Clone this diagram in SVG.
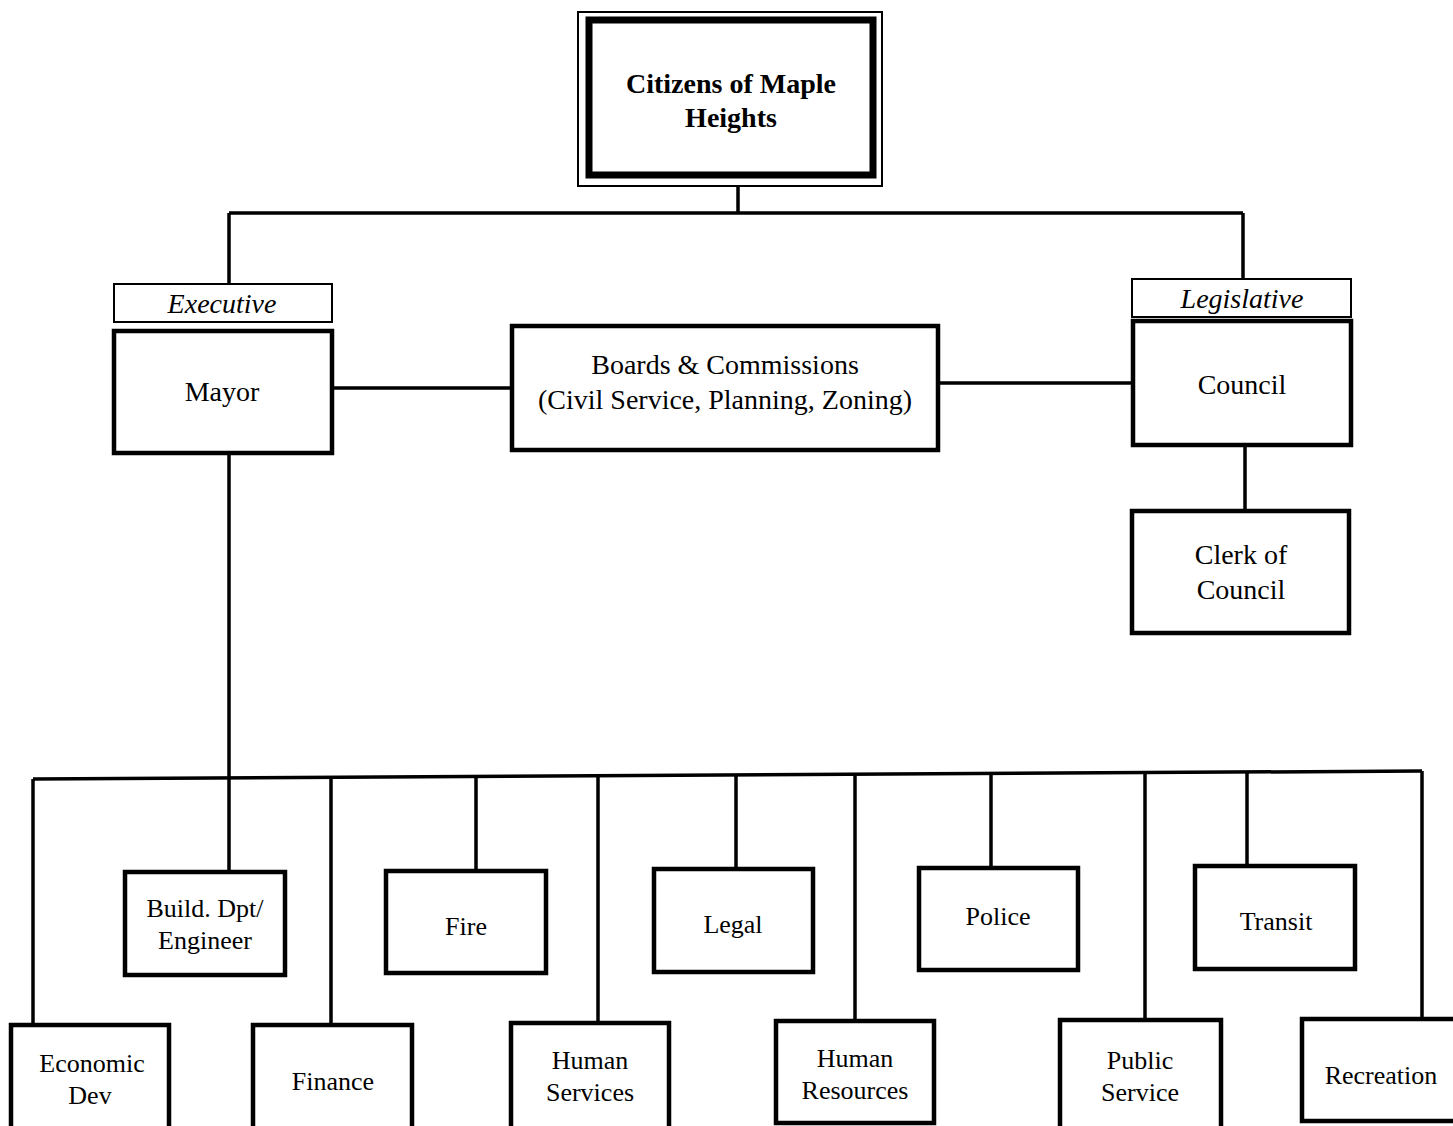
<svg xmlns="http://www.w3.org/2000/svg" width="1453" height="1126" viewBox="0 0 1453 1126">
<style>
.box{fill:#fff;stroke:#000;stroke-width:4.5}
.lbl{fill:#fff;stroke:#000;stroke-width:2}
.t{font-family:"Liberation Serif","Times New Roman",serif;font-size:28px;fill:#000;text-anchor:middle}
.s{font-size:26px}
.b{font-weight:bold}
.i{font-style:italic}
.c{stroke:#000;stroke-width:3.5;fill:none}
</style>
<rect width="1453" height="1126" fill="#fff"/>
<g id="connectors">
<path class="c" d="M738 186V213M229 213H1243M229 213V284M1243 213V279"/>
<path class="c" d="M332 388H512M938 383H1133M1245 446V511"/>
<path class="c" d="M229 453V871"/>
<path class="c" d="M33 779L1422 771"/>
<path class="c" d="M33 779V1025M331 777V1025M476 776V870M598 776V1023M736 775V868M855 774V1021M991 774V867M1145 773V1020M1247 772V865M1422 771V1018"/>
</g>
<g id="citizens">
<rect x="578" y="12" width="304" height="174" fill="#fff" stroke="#000" stroke-width="2"/>
<rect x="589" y="20" width="284" height="155" fill="none" stroke="#000" stroke-width="7"/>
<text class="t b" x="731" y="93">Citizens of Maple</text>
<text class="t b" x="731" y="127">Heights</text>
</g>
<g id="executive">
<rect class="lbl" x="114" y="284" width="218" height="38"/>
<text class="t i" x="222" y="313">Executive</text>
</g>
<g id="mayor">
<rect class="box" x="114" y="331" width="218" height="122"/>
<text class="t" x="222" y="401">Mayor</text>
</g>
<g id="boards">
<rect class="box" x="512" y="326" width="426" height="124"/>
<text class="t" x="725" y="374">Boards &amp; Commissions</text>
<text class="t" x="725" y="409">(Civil Service, Planning, Zoning)</text>
</g>
<g id="legislative">
<rect class="lbl" x="1132" y="279" width="219" height="38"/>
<text class="t i" x="1242" y="308">Legislative</text>
</g>
<g id="council">
<rect class="box" x="1133" y="321" width="218" height="124"/>
<text class="t" x="1242" y="394">Council</text>
</g>
<g id="clerk">
<rect class="box" x="1132" y="511" width="217" height="122"/>
<text class="t" x="1241" y="564">Clerk of</text>
<text class="t" x="1241" y="599">Council</text>
</g>
<g id="economic-dev">
<rect class="box" x="11" y="1025" width="158" height="110"/>
<text class="t s" x="92" y="1072">Economic</text>
<text class="t s" x="90" y="1104">Dev</text>
</g>
<g id="build-dpt">
<rect class="box" x="125" y="872" width="160" height="103"/>
<text class="t s" x="205" y="917">Build. Dpt/</text>
<text class="t s" x="205" y="949">Engineer</text>
</g>
<g id="finance">
<rect class="box" x="253" y="1025" width="159" height="110"/>
<text class="t s" x="333" y="1090">Finance</text>
</g>
<g id="fire">
<rect class="box" x="386" y="871" width="160" height="102"/>
<text class="t s" x="466" y="935">Fire</text>
</g>
<g id="human-services">
<rect class="box" x="511" y="1023" width="158" height="112"/>
<text class="t s" x="590" y="1069">Human</text>
<text class="t s" x="590" y="1101">Services</text>
</g>
<g id="legal">
<rect class="box" x="654" y="869" width="159" height="103"/>
<text class="t s" x="733" y="933">Legal</text>
</g>
<g id="human-resources">
<rect class="box" x="776" y="1021" width="158" height="102"/>
<text class="t s" x="855" y="1067">Human</text>
<text class="t s" x="855" y="1099">Resources</text>
</g>
<g id="police">
<rect class="box" x="919" y="868" width="159" height="102"/>
<text class="t s" x="998" y="925">Police</text>
</g>
<g id="public-service">
<rect class="box" x="1060" y="1020" width="161" height="115"/>
<text class="t s" x="1140" y="1069">Public</text>
<text class="t s" x="1140" y="1101">Service</text>
</g>
<g id="transit">
<rect class="box" x="1195" y="866" width="160" height="103"/>
<text class="t s" x="1276" y="930">Transit</text>
</g>
<g id="recreation">
<rect class="box" x="1302" y="1019" width="160" height="102"/>
<text class="t s" x="1381" y="1084">Recreation</text>
</g>
</svg>
